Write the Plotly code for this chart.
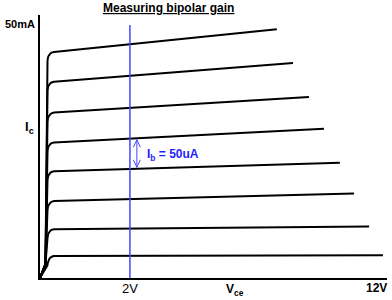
import plotly.graph_objects as go
import numpy as np

# ---------------- data ----------------
vce_max = 12.0            # V, right end of axis
ic_max = 52.0             # mA, top of axis
ic_knee = [44.7, 38.8, 32.7, 26.8, 21.1, 15.2, 9.65, 4.33]   # mA at start of flat region
ic_end = [49.2, 42.5, 35.8, 29.5, 22.8, 16.7, 10.2, 4.5]     # mA at right end
vce_end = [8.19, 8.75, 9.30, 9.82, 10.37, 10.86, 11.38, 11.86]  # V at right end
vce_marker = 3.11         # position of the measurement line
ic_marker_top = 50.0
vce_arrow = 3.35          # position of the Ib arrow
arrow_between = (3, 4)    # arrow spans curve 4 -> curve 5
tick_labels = ["2V", "12V"]
tick_pos = [vce_marker, vce_max]
title = "Measuring bipolar gain"
y_label = "50mA"
ib_label = "I<sub>b</sub> = 50uA"

# ---------------- layout geometry ----------------
W, H = 392, 300
L, R, T, B = 40, 5, 15, 22
pw, ph = W - L - R, H - T - B
sx = pw / vce_max
sy = ph / ic_max

def px2paper(px, py):
    return (px - L) / pw, (H - B - py) / ph

fig = go.Figure()

# knee shape (pixel offsets): steep rise from origin, rounded knee
KNEE_X0, KNEE_X1, KNEE_RY = 7.5, 14.0, 9.0
t = np.linspace(0, np.pi / 2, 9)
for k, e, ve in zip(ic_knee, ic_end, vce_end):
    h = k * sy
    kx, ky = [0.0], [0.0]
    if h - KNEE_RY > 15:
        kx.append(5.5); ky.append(14.0)
    kx += list(KNEE_X1 - (KNEE_X1 - KNEE_X0) * np.cos(t))
    ky += list(h - KNEE_RY + KNEE_RY * np.sin(t))
    xs = [v / sx for v in kx] + [ve]
    ys = [v / sy for v in ky] + [e]
    fig.add_trace(go.Scatter(x=xs, y=ys, mode="lines",
                             line=dict(color="black", width=2),
                             hoverinfo="skip", showlegend=False, cliponaxis=False))

# measurement line
blue = "#4646ff"
fig.add_trace(go.Scatter(x=[vce_marker, vce_marker], y=[0, ic_marker_top], mode="lines",
                         line=dict(color=blue, width=1.5), hoverinfo="skip", showlegend=False))

# Ib arrow between two curves, evaluated at arrow position
def curve_at(i, v):
    x0 = KNEE_X1 / sx
    return ic_knee[i] + (ic_end[i] - ic_knee[i]) * (v - x0) / (vce_end[i] - x0)

ytop = curve_at(arrow_between[0], vce_arrow)
ybot = curve_at(arrow_between[1], vce_arrow)
aw, ah = 3.5 / sx, 7.5 / sy
pad = 1.5 / sy
ax_x = [vce_arrow - aw, vce_arrow, vce_arrow + aw, None,
        vce_arrow, vce_arrow, None,
        vce_arrow - aw, vce_arrow, vce_arrow + aw]
ax_y = [ytop - pad - ah, ytop - pad, ytop - pad - ah, None,
        ytop - pad, ybot + pad, None,
        ybot + pad + ah, ybot + pad, ybot + pad + ah]
fig.add_trace(go.Scatter(x=ax_x, y=ax_y, mode="lines", line=dict(color=blue, width=1),
                         hoverinfo="skip", showlegend=False))

font = "Liberation Sans, Arial, sans-serif"
ann = []
def add(text, px, py, size=12, color="black", xanchor="center", bold=True, under=False):
    x, y = px2paper(px, py)
    f = dict(family=font, size=size, color=color, weight="bold" if bold else "normal")
    if under:
        f["lineposition"] = "under"
    ann.append(dict(text=text, x=x, y=y,
                    xref="paper", yref="paper", xanchor=xanchor, yanchor="middle",
                    showarrow=False, font=f))

add(title, 168.5, 8, 12, under=True)
add(y_label, 19.5, 24, 11)
add("I<sub>c</sub>", 29, 127, 13)
add(tick_labels[0], L + tick_pos[0] * sx, 288, 13, bold=False)
add("V<sub>ce</sub>", 235, 290, 12)
add(tick_labels[1], L + tick_pos[1] * sx + 2, 288, 12, xanchor="right")
add(ib_label, 172.5, 155, 12, color="#1e1eff")

fig.update_layout(
    width=W, height=H, margin=dict(l=L, r=R, t=T, b=B, pad=0),
    paper_bgcolor="white", plot_bgcolor="white", showlegend=False,
    annotations=ann,
    xaxis=dict(range=[0, vce_max], showline=True, linecolor="black", linewidth=2,
               showgrid=False, zeroline=False, showticklabels=False, ticks="", fixedrange=True),
    yaxis=dict(range=[0, ic_max], showline=True, linecolor="black", linewidth=2,
               showgrid=False, zeroline=False, showticklabels=False, ticks="", fixedrange=True),
)

fig.write_html("out.html", config={"displayModeBar": False})
